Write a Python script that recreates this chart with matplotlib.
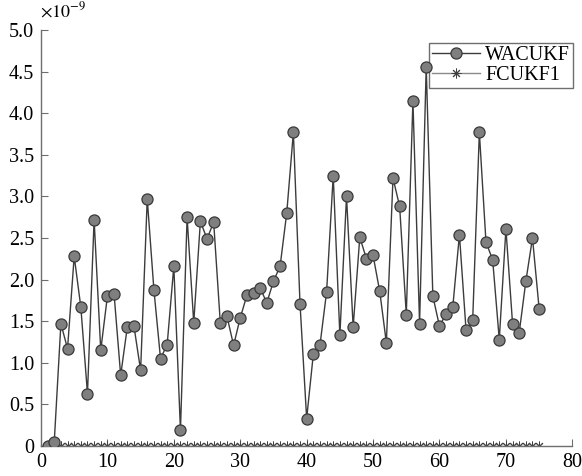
import matplotlib.pyplot as plt
from matplotlib.ticker import FuncFormatter

plt.rcParams['font.family'] = ['Liberation Serif', 'DejaVu Serif']
plt.rcParams['mathtext.fontset'] = 'stix'

# values in units of 1e-9
wacukf = [0.00, 0.05, 1.47, 1.17, 2.28, 1.67, 0.63, 2.72, 1.15, 1.80,
          1.83, 0.85, 1.43, 1.44, 0.91, 2.97, 1.88, 1.05, 1.22, 2.16,
          0.19, 2.75, 1.48, 2.70, 2.49, 2.69, 1.48, 1.56, 1.21, 1.54,
          1.81, 1.84, 1.90, 1.72, 1.98, 2.16, 2.80, 3.77, 1.71, 0.33,
          1.10, 1.21, 1.85, 3.25, 1.33, 3.00, 1.43, 2.51, 2.25, 2.29,
          1.86, 1.24, 3.22, 2.88, 1.58, 4.15, 1.47, 4.56, 1.80, 1.44,
          1.59, 1.67, 2.54, 1.39, 1.52, 3.77, 2.45, 2.24, 1.28, 2.61,
          1.47, 1.36, 1.98, 2.50, 1.65]
fcukf1 = [0.0] * 75
steps = list(range(1, 76))
scale = 1e-9


def main():
    fig = plt.figure(figsize=(5.82, 4.76), dpi=100)
    ax = fig.add_axes([0.0704, 0.063, 0.913, 0.874])

    ax.plot(steps, [v * scale for v in wacukf], color='#3c3c3c', lw=1.0,
            marker='o', markersize=8, markerfacecolor='#7f7f7f',
            markeredgecolor='#3a3a3a', markeredgewidth=0.9, label='WACUKF',
            zorder=3)
    ax.plot(steps, [v * scale for v in fcukf1], color='#8a8a8a', lw=1.0,
            marker=(8, 2, 0), markersize=7, markeredgecolor='#404040',
            markeredgewidth=0.7, label='FCUKF1', zorder=2)

    ax.set_xlim(0, 80)
    ax.set_ylim(0, 5e-9)
    ax.set_xticks(range(0, 81, 10))
    ax.set_yticks([i * 0.5e-9 for i in range(11)])
    ax.yaxis.set_major_formatter(FuncFormatter(
        lambda v, p: '0' if abs(v) < 1e-15 else '%.1f' % (v / scale)))

    for s in ['top', 'right']:
        ax.spines[s].set_visible(False)
    for s in ['left', 'bottom']:
        ax.spines[s].set_color('#6e6e6e')
        ax.spines[s].set_linewidth(1.0)
    ax.tick_params(direction='in', length=5, color='#6e6e6e',
                   labelsize=14.5, labelcolor='black', pad=5)
    ax.text(0.068, 0.998, r'$\times10^{-9}$', transform=fig.transFigure,
            fontsize=13, ha='left', va='top')

    leg = ax.legend(loc='upper right', bbox_to_anchor=(0.985, 0.91),
                    bbox_transform=fig.transFigure, fontsize=14.5,
                    fancybox=False, framealpha=1, edgecolor='#6e6e6e',
                    borderpad=0.15, handlelength=2.4, handletextpad=0.25,
                    labelspacing=0.05, borderaxespad=0)
    leg.get_frame().set_linewidth(1.0)
    leg.set_zorder(1)

    fig.savefig('out.png', dpi=100)


if __name__ == '__main__':
    main()
